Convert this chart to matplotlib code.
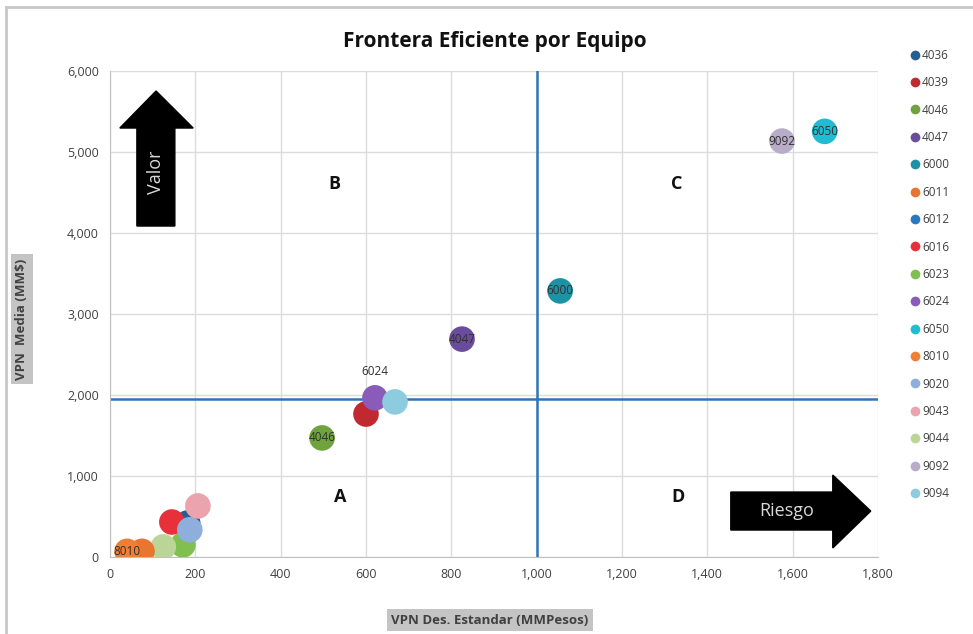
import matplotlib
matplotlib.use("Agg")
import matplotlib.pyplot as plt
from matplotlib.patches import Polygon
from matplotlib.lines import Line2D

plt.rcParams['font.family'] = ['Open Sans', 'DejaVu Sans']

# datos por equipo (lectura aproximada de la grafica)
equipos = ["4036", "4039", "4046", "4047", "6000", "6011", "6012", "6016", "6023",
           "6024", "6050", "8010", "9020", "9043", "9044", "9092", "9094"]
des_std = [182, 600, 497, 825, 1055, 75, 185, 145, 171, 621, 1675, 40, 187, 206, 125, 1575, 668]
media = [420, 1765, 1470, 2690, 3285, 70, 340, 432, 150, 1965, 5255, 70, 335, 630, 125, 5135, 1915]
colores = ["#255E91", "#C0292F", "#6FA33D", "#6A4C9C", "#1C93A5", "#E87530", "#2A78C0",
           "#E8303A", "#7FC050", "#8A5BB8", "#1FBCD2", "#F07F35", "#8EAEDB", "#EBA3AE",
           "#BBD597", "#B8ACC9", "#8DCCDE"]
etiquetados = ["4046", "4047", "6000", "6050", "8010", "9092"]
etiqueta_arriba = ["6024"]

# lineas de corte de cuadrantes
corte_x = 1000
corte_y = 1950

# orden de dibujo (los de atras primero)
orden = ["4036", "6012", "4039", "6016", "6023", "9044", "6011", "8010", "9020", "9043",
         "4046", "6024", "9094", "4047", "6000", "9092", "6050"]

fig = plt.figure(figsize=(9.73, 6.34), dpi=100)
ax = fig.add_axes([110 / 973, 1 - 557 / 634, 768 / 973, 486 / 634])

# marco de la figura
fig.add_artist(Line2D([6 / 973, 6 / 973], [0, 1 - 7 / 634], transform=fig.transFigure, color="#c8c8c8", lw=2))
fig.add_artist(Line2D([6 / 973, 1], [1 - 7 / 634, 1 - 7 / 634], transform=fig.transFigure, color="#c8c8c8", lw=2))

ax.set_xlim(0, 1800)
ax.set_ylim(0, 6000)
ax.set_xticks(range(0, 1801, 200))
ax.set_yticks(range(0, 6001, 1000))
ax.set_xticklabels([f"{v:,}" for v in range(0, 1801, 200)])
ax.set_yticklabels([f"{v:,}" for v in range(0, 6001, 1000)])
ax.grid(True, color="#dcdcdc", lw=1)
ax.set_axisbelow(True)
for s in ["top", "right"]:
    ax.spines[s].set_visible(False)
for s in ["left", "bottom"]:
    ax.spines[s].set_color("#c0c0c0")
ax.tick_params(length=0, labelsize=9, colors="#404040", pad=8)

ax.axvline(corte_x, color="#2E75B6", lw=1.8, zorder=2)
ax.axhline(corte_y, color="#2E75B6", lw=1.8, zorder=2)

for eq in orden:
    i = equipos.index(eq)
    ax.scatter(des_std[i], media[i], s=340, color=colores[i], edgecolors="none", zorder=3)
for i, eq in enumerate(equipos):
    if eq in etiquetados:
        ax.text(des_std[i], media[i], eq, ha="center", va="center", fontsize=8.5,
                color="#303030", zorder=5)
    if eq in etiqueta_arriba:
        ax.text(des_std[i], media[i] + 330, eq, ha="center", va="center", fontsize=8.5,
                color="#303030", zorder=5)

# letras de cuadrante
for letra, lx, ly in [("B", 527, 4605), ("C", 1329, 4605), ("A", 539, 741), ("D", 1331, 741)]:
    ax.text(lx, ly, letra, ha="center", va="center", fontsize=13, fontweight="bold", color="#111111")

# flechas Valor y Riesgo
valor = Polygon([(63, 4086), (152, 4086), (152, 5296), (195, 5296), (108, 5753),
                 (23, 5296), (63, 5296)], closed=True, color="black", zorder=4)
ax.add_patch(valor)
ax.text(108, 4750, "Valor", rotation=90, ha="center", va="center", color="#d8d8d8", fontsize=13, zorder=5)
riesgo = Polygon([(1455, 333), (1455, 802), (1694, 802), (1694, 1012), (1783, 567),
                  (1694, 111), (1694, 333)], closed=True, color="black", zorder=4)
ax.add_patch(riesgo)
ax.text(1585, 567, "Riesgo", ha="center", va="center", color="#d8d8d8", fontsize=13, zorder=5)

fig.text(495 / 973, 1 - 42 / 634, "Frontera Eficiente por Equipo", ha="center", va="center",
         fontsize=15, fontweight="bold", color="#111111")
fig.text(490 / 973, 1 - 620 / 634, "VPN Des. Estandar (MMPesos)", ha="center", va="center",
         fontsize=9.5, fontweight="bold", color="#404040",
         bbox=dict(facecolor="#c4c4c4", edgecolor="none", pad=3))
fig.text(22 / 973, 1 - 319 / 634, "VPN  Media (MM$)", ha="center", va="center", rotation=90,
         fontsize=9.5, fontweight="bold", color="#404040",
         bbox=dict(facecolor="#c4c4c4", edgecolor="none", pad=3))

# leyenda
handles = [Line2D([], [], marker="o", linestyle="none", markersize=7, color=c, markeredgewidth=0)
           for c in colores]
fig.legend(handles, equipos, loc="upper left", bbox_to_anchor=(903 / 973, 1 - 44 / 634),
           frameon=False, fontsize=8.5, handletextpad=0.0, labelspacing=1.22,
           handlelength=1.2, borderaxespad=0, labelcolor="#404040")

fig.savefig("out.png", dpi=100)
